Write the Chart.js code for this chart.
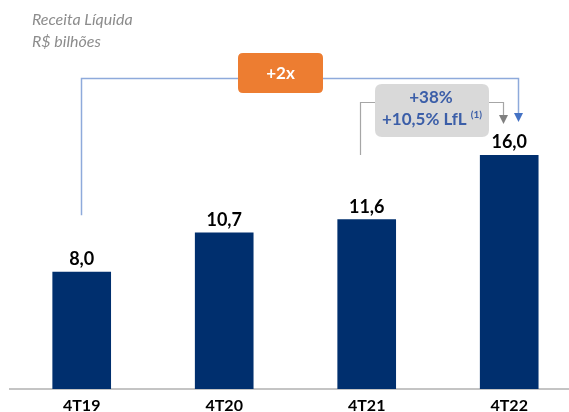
<!DOCTYPE html>
<html>
<head>
<meta charset="utf-8">
<script src="https://cdn.jsdelivr.net/npm/chart.js@4"></script>
<style>
html,body{margin:0;padding:0;background:#fff;}
#wrap{width:569px;height:412px;position:relative;}
</style>
</head>
<body>
<div id="wrap"><canvas id="c" width="569" height="412"></canvas></div>
<script>
const categories = ['4T19', '4T20', '4T21', '4T22'];
const revenue = [8.0, 10.7, 11.6, 16.0];
const titleLines = ['Receita Líquida', 'R$ bilhões'];
const growthTotal = '+2x';
const growthYoY = '+38%';
const growthLfL = '+10,5% LfL';
const footnoteMark = '(1)';

const FONT = 'Lato, "Noto Sans", sans-serif';
const fmt = v => v.toFixed(1).replace('.', ',');

function roundRect(ctx, x, y, w, h, r) {
  ctx.beginPath();
  ctx.moveTo(x + r, y);
  ctx.lineTo(x + w - r, y);
  ctx.quadraticCurveTo(x + w, y, x + w, y + r);
  ctx.lineTo(x + w, y + h - r);
  ctx.quadraticCurveTo(x + w, y + h, x + w - r, y + h);
  ctx.lineTo(x + r, y + h);
  ctx.quadraticCurveTo(x, y + h, x, y + h - r);
  ctx.lineTo(x, y + r);
  ctx.quadraticCurveTo(x, y, x + r, y);
  ctx.closePath();
}
function arrowDown(ctx, x, tipY, color) {
  ctx.fillStyle = color;
  ctx.beginPath();
  ctx.moveTo(x - 4.5, tipY - 9);
  ctx.lineTo(x + 4.5, tipY - 9);
  ctx.lineTo(x, tipY);
  ctx.closePath();
  ctx.fill();
}

const annot = {
  id: 'annot',
  afterDatasetsDraw(chart) {
    const ctx = chart.ctx;
    const xs = chart.scales.x, ys = chart.scales.y;
    const cx = i => xs.getPixelForValue(i);
    ctx.save();
    // title
    ctx.fillStyle = '#8c8c8c';
    ctx.font = 'italic 16px ' + FONT;
    ctx.textAlign = 'left';
    ctx.textBaseline = 'alphabetic';
    ctx.fillText(titleLines[0], 32, 25);
    ctx.fillText(titleLines[1], 32, 47);

    // value labels
    ctx.fillStyle = '#000';
    ctx.font = 'bold 18px ' + FONT;
    ctx.textAlign = 'center';
    revenue.forEach((v, i) => {
      ctx.fillText(fmt(v), cx(i), ys.getPixelForValue(v) - 7);
    });

    // blue bracket (+2x)
    const bx0 = Math.round(cx(0)) - 0.5, bx1 = Math.round(cx(3) + 10) - 0.5, by = 78.5;
    ctx.strokeStyle = '#8eaadb';
    ctx.lineWidth = 1.5;
    ctx.beginPath();
    ctx.moveTo(bx0, ys.getPixelForValue(revenue[0]) - 57);
    ctx.lineTo(bx0, by);
    ctx.lineTo(bx1, by);
    ctx.lineTo(bx1, 114);
    ctx.stroke();
    arrowDown(ctx, bx1, 122, '#4472c4');

    // gray bracket
    const gx0 = Math.round(cx(2) - 7) + 0.5, gx1 = Math.round(cx(3) - 6) + 0.5, gy = 102.5;
    ctx.strokeStyle = '#a6a6a6';
    ctx.lineWidth = 1.2;
    ctx.beginPath();
    ctx.moveTo(gx0, 155);
    ctx.lineTo(gx0, gy);
    ctx.lineTo(gx1, gy);
    ctx.lineTo(gx1, 116);
    ctx.stroke();
    arrowDown(ctx, gx1, 124, '#808080');

    // orange box
    ctx.fillStyle = '#ed7d31';
    roundRect(ctx, 238, 53, 85, 40, 5);
    ctx.fill();
    ctx.fillStyle = '#fff';
    ctx.font = 'bold 17px ' + FONT;
    ctx.textAlign = 'center';
    ctx.textBaseline = 'middle';
    ctx.fillText(growthTotal, 280.5, 73.5);

    // gray box
    ctx.fillStyle = '#d9d9d9';
    roundRect(ctx, 375, 84, 114, 53, 7);
    ctx.fill();
    ctx.fillStyle = '#3b5ea8';
    ctx.font = 'bold 17px ' + FONT;
    ctx.textBaseline = 'alphabetic';
    ctx.textAlign = 'center';
    ctx.fillText(growthYoY, 431, 102.5);
    const w1 = ctx.measureText(growthLfL + ' ').width;
    ctx.font = 'bold 10px ' + FONT;
    const w2 = ctx.measureText(footnoteMark).width;
    const startX = 432 - (w1 + w2) / 2;
    ctx.textAlign = 'left';
    ctx.font = 'bold 17px ' + FONT;
    ctx.fillText(growthLfL, startX, 125);
    ctx.font = 'bold 10px ' + FONT;
    ctx.fillText(footnoteMark, startX + w1, 118);
    ctx.restore();
  }
};

new Chart(document.getElementById('c'), {
  type: 'bar',
  data: {
    datasets: [{
      data: revenue.map((v, i) => ({ x: i, y: v })),
      backgroundColor: '#002f6e',
      borderWidth: 0,
      barThickness: 58
    }]
  },
  options: {
    responsive: false,
    animation: false,
    events: [],
    layout: { padding: { left: 9.5, right: 0, top: 9.4, bottom: 0 } },
    plugins: { legend: { display: false }, tooltip: { enabled: false }, title: { display: false } },
    scales: {
      x: {
        type: 'linear',
        offset: false,
        min: -0.5067,
        max: 3.4196,
        grid: { display: false, drawTicks: false, offset: false },
        border: { display: true, color: '#c4c4c4', width: 2 },
        afterBuildTicks: s => { s.ticks = categories.map((_, i) => ({ value: i })); },
        afterFit: s => { s.height = 23; },
        ticks: {
          autoSkip: false,
          maxRotation: 0,
          padding: 7,
          color: '#000',
          font: { family: FONT, size: 16, weight: 'bold' },
          callback: v => categories[v]
        }
      },
      y: {
        display: false,
        min: 0,
        max: 26
      }
    }
  },
  plugins: [annot]
});
</script>
</body>
</html>
